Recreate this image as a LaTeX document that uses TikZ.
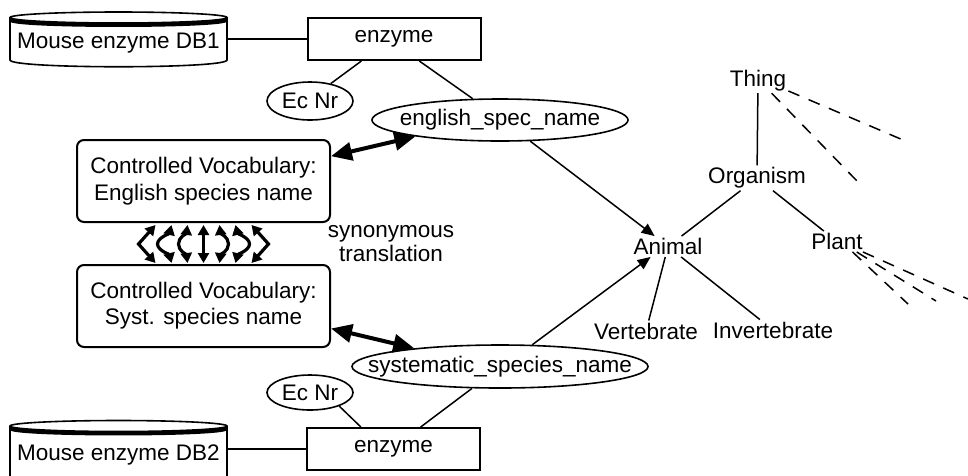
\documentclass[tikz,border=0pt]{standalone}
\usepackage{fontspec}
\setmainfont{Liberation Sans}
\usetikzlibrary{arrows.meta,shapes.geometric,calc}
\begin{document}
\begin{tikzpicture}[x=1pt,y=-1pt,
  every node/.style={font=\fontsize{22.5}{26}\selectfont, inner sep=2pt},
  ln/.style={line width=1.5pt},
  dbtext/.style={inner sep=0pt, minimum width=217pt},
  dbline/.style={line width=1.6pt},
  entity/.style={draw, rectangle, line width=2pt, minimum width=173pt, minimum height=42pt},
  attr/.style={draw, ellipse, line width=1.6pt, inner sep=0pt},
  vocab/.style={draw, rectangle, rounded corners=7pt, line width=2pt,
    minimum width=253pt, minimum height=82pt, align=center},
  concept/.style={inner sep=2pt},
  isa/.style={line width=1.5pt, -{Triangle[length=13pt,width=11pt]}},
  bigarrow/.style={line width=4pt,
    {Triangle[length=21pt,width=18pt]}-{Triangle[length=21pt,width=18pt]}},
  synarrow/.style={line width=3.2pt,
    {Triangle[length=10pt,width=11pt]}-{Triangle[length=10pt,width=11pt]}},
  openend/.style={line width=1.5pt, dash pattern=on 12pt off 10pt},
]
\path[use as bounding box] (0,0) rectangle (968,475);
\clip (0,0) rectangle (968,475);

% ---------- database drums ----------
\draw[dbline] (118.5,17.5) ellipse [x radius=108.5, y radius=5.5];
\fill (10,17.5) .. controls (10,24.8) and (227,24.8) .. (227,17.5)
   -- (227,21.5) .. controls (227,28.8) and (10,28.8) .. (10,21.5) -- cycle;
\draw[dbline] (10,17.5) -- (10,60) .. controls (10,69) and (227,69) .. (227,60) -- (227,17.5);
\node[dbtext] (db1) at (118.5,43) {Mouse enzyme DB1};

\draw[dbline] (118.5,426) ellipse [x radius=108.5, y radius=5.5];
\fill (10,426) .. controls (10,433.3) and (227,433.3) .. (227,426)
   -- (227,430) .. controls (227,437.3) and (10,437.3) .. (10,430) -- cycle;
\draw[dbline] (10,426) -- (10,480);
\draw[dbline] (227,426) -- (227,480);
\node[dbtext] (db2) at (118.5,455) {Mouse enzyme DB2};

% ---------- entities and attributes ----------
\node[entity] (enz1) at (394,39) {enzyme};
\node[entity] (enz2) at (393.5,449) {enzyme};

\node[attr, minimum width=86pt, minimum height=38pt] (ecnr1) at (310,101) {\makebox[0pt]{Ec Nr}};
\node[attr, minimum width=86pt, minimum height=35pt] (ecnr2) at (310,392.5) {\makebox[0pt]{Ec Nr}};
\node[attr, minimum width=256pt, minimum height=42pt] (esn) at (500,120) {\makebox[0pt]{english\_spec\_name}};
\node[attr, minimum width=296pt, minimum height=43pt] (ssn) at (500,366.5) {\makebox[0pt]{systematic\_species\_name}};

\draw[ln] (db1.east |- enz1.west) -- (enz1.west);
\draw[ln] (db2.east |- enz2.west) -- (enz2.west);
\draw[ln] (ecnr1.40) -- (enz1.214);
\draw[ln] (enz1.-41) -- (esn.142);
\draw[ln] (ecnr2.-25) -- (enz2.146);
\draw[ln] (ssn.218) -- (enz2.39);

% ---------- controlled vocabularies ----------
\node[vocab] (cv1) at (203.5,181) {Controlled Vocabulary:\\[1pt]English species name};
\node[vocab] (cv2) at (203.5,306) {Controlled Vocabulary:\\Syst. species name};
\node[align=center, font=\fontsize{22.5}{24}\selectfont] (syn) at (391,244) {synonymous\\translation};

\draw[bigarrow] (cv1.11.6) -- (esn.191);
\draw[bigarrow] (cv2.-10.7) -- (ssn.168);

% synonym links between the two vocabularies
\foreach \d/\k in {-48/a,-32/b,-16/c,0/d,16/e,32/f,48/g}{
  \coordinate (st\k) at ([xshift=\d pt, yshift=-2pt]cv1.south);
  \coordinate (sb\k) at ([xshift=\d pt, yshift=1pt]cv2.north);
}
\draw[synarrow] (sta) -- ($(sta)!0.5!(sba)+(-17,0)$) -- (sba);
\draw[synarrow] (stb) .. controls ($(stb)+(-2,8)$) and ($(stb)+(-14,13)$) ..
   ($(stb)!0.5!(sbb)+(-14,0)$) .. controls ($(sbb)+(-14,-13)$) and ($(sbb)+(-2,-8)$) .. (sbb);
\draw[synarrow] (stc) .. controls ($(stc)+(-1,8)$) and ($(stc)+(-9,12)$) ..
   ($(stc)!0.5!(sbc)+(-9,0)$) .. controls ($(sbc)+(-9,-12)$) and ($(sbc)+(-1,-8)$) .. (sbc);
\draw[synarrow] (std) -- (sbd);
\draw[synarrow] (ste) .. controls ($(ste)+(1,8)$) and ($(ste)+(9,12)$) ..
   ($(ste)!0.5!(sbe)+(9,0)$) .. controls ($(sbe)+(9,-12)$) and ($(sbe)+(1,-8)$) .. (sbe);
\draw[synarrow] (stf) .. controls ($(stf)+(2,8)$) and ($(stf)+(14,13)$) ..
   ($(stf)!0.5!(sbf)+(14,0)$) .. controls ($(sbf)+(14,-13)$) and ($(sbf)+(2,-8)$) .. (sbf);
\draw[synarrow] (stg) -- ($(stg)!0.5!(sbg)+(17,0)$) -- (sbg);

% ---------- ontology ----------
\node[concept] (thing) at (758,80.5) {Thing};
\node[concept] (organism) at (757,178) {Organism};
\node[concept] (animal) at (668,246.5) {Animal};
\node[concept] (plant) at (837,241.5) {Plant};
\node[concept] (vert) at (646,331) {Vertebrate};
\node[concept] (invert) at (773,330) {Invertebrate};

\draw[ln] (thing) -- (organism);
\draw[ln] (organism) -- (animal);
\draw[ln] (organism) -- (plant);
\draw[ln] (animal) -- (vert);
\draw[ln] (animal) -- (invert);

\draw[isa] (esn.-35) -- (animal.142);
\draw[isa] (ssn.34) -- (animal.211);

% open-ended branches
\coordinate (t1) at (903,140);
\coordinate (t2) at (858,182);
\coordinate (p1) at (968,299);
\coordinate (p2) at (936,301);
\coordinate (p3) at (908,304);
\draw[openend] (thing.-19) -- (t1);
\draw[openend] (thing.-43) -- (t2);
\draw[openend] (plant.-22) -- (p1);
\draw[openend] (plant.-28) -- (p2);
\draw[openend] (plant.-34) -- (p3);
\end{tikzpicture}
\end{document}
